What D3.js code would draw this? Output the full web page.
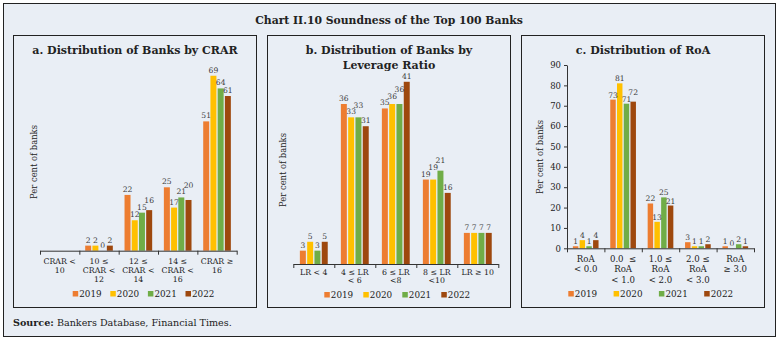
<!DOCTYPE html>
<html>
<head>
<meta charset="utf-8">
<script src="https://cdn.jsdelivr.net/npm/d3@7"></script>
<style>
body { margin: 0; background: #fff; }
svg text { font-family: "DejaVu Serif", serif; fill: #222; }
</style>
</head>
<body>
<svg id="chart" width="779" height="339"></svg>
<script>
// ---- data ----
var years = ["2019", "2020", "2021", "2022"];
var yearColors = ["#ed7d31", "#ffc000", "#70ad47", "#9e480e"];

// a. CRAR
var crarCats = ["CRAR <|10", "10 ≤|CRAR <|12", "12 ≤|CRAR <|14", "14 ≤|CRAR <|16", "CRAR ≥|16"];
var crarValues = [
	[null, 2, 22, 25, 51],
	[null, 2, 12, 17, 69],
	[null, 0, 15, 21, 64],
	[null, 2, 16, 20, 61]
];

// b. leverage ratio
var lrCats = ["LR < 4", "4 ≤ LR|< 6", "6 ≤ LR|<8", "8 ≤ LR|<10", "LR ≥ 10"];
var lrValues = [
	[3, 36, 35, 19, 7],
	[5, 33, 36, 19, 7],
	[3, 33, 36, 21, 7],
	[5, 31, 41, 16, 7]
];

// c. RoA
var roaCats = ["RoA|< 0.0", "0.0 \u00a0≤|RoA|< 1.0", "1.0 ≤|RoA|< 2.0", "2.0 ≤|RoA|< 3.0", "RoA|≥ 3.0"];
var roaValues = [
	[1, 73, 22, 3, 1],
	[4, 81, 13, 1, 0],
	[1, 71, 25, 1, 2],
	[4, 72, 21, 2, 1]
];
var roaTicks = [0, 10, 20, 30, 40, 50, 60, 70, 80, 90];

var svg = d3.select("#chart");

// outer frame
svg.append("rect")
	.attr("x", 3.5).attr("y", 3.5)
	.attr("width", 772).attr("height", 333)
	.attr("fill", "#e9eef5")
	.attr("stroke", "#222").attr("stroke-width", 1);

svg.append("text")
	.attr("x", 389).attr("y", 24)
	.attr("text-anchor", "middle")
	.style("font-size", "10.8px").style("font-weight", "bold")
	.text("Chart II.10 Soundness of the Top 100 Banks");

var src = svg.append("text").attr("x", 13).attr("y", 326).style("font-size", "9.6px");
src.append("tspan").style("font-weight", "bold").text("Source:");
src.append("tspan").text(" Bankers Database, Financial Times.");

function drawPanel(p) {
	// panel box and title
	svg.append("rect")
		.attr("x", p.box[0] + 0.5).attr("y", 35.5)
		.attr("width", 243).attr("height", 272)
		.attr("fill", "none").attr("stroke", "#222");

	p.title.forEach(function(t, i) {
		svg.append("text")
			.attr("x", p.box[0] + 122).attr("y", 54 + i * 14.5)
			.attr("text-anchor", "middle")
			.style("font-size", "11px").style("font-weight", "bold")
			.text(t);
	});

	var g = svg.append("g");
	var n = p.cats.length;
	var x0 = d3.scaleBand().domain(d3.range(n)).range(p.xRange);
	var x1 = d3.scaleBand().domain(years).range([0, x0.bandwidth()])
		.paddingInner(p.pi).paddingOuter(p.po);
	var y = d3.scaleLinear().domain([0, p.yMax]).range([p.base, p.yTop]);

	var data = [];
	years.forEach(function(yr, k) {
		p.values[k].forEach(function(v, i) {
			if (v !== null) data.push({i: i, k: k, yr: yr, v: v});
		});
	});

	g.selectAll("rect.bar").data(data).enter().append("rect")
		.attr("class", "bar")
		.attr("x", function(d) { return x0(d.i) + x1(d.yr); })
		.attr("y", function(d) { return y(d.v); })
		.attr("width", x1.bandwidth())
		.attr("height", function(d) { return p.base - y(d.v); })
		.attr("fill", function(d) { return yearColors[d.k]; });

	// value labels, lifted when they would collide with the left neighbour
	var prev = null;
	data.sort(function(a, b) { return a.i - b.i || a.k - b.k; });
	data.forEach(function(d) {
		var cx = x0(d.i) + x1(d.yr) + x1.bandwidth() / 2;
		var ty = y(d.v) - p.gap;
		var t = g.append("text")
			.attr("x", cx).attr("text-anchor", "middle")
			.style("font-size", p.labelSize + "px").style("fill", "#404040")
			.text(d.v);
		var w = t.node().getComputedTextLength();
		if (prev && prev.i == d.i && prev.right > cx - w / 2 && Math.abs(prev.y - ty) < 6) {
			ty = prev.y - p.labelSize + 1;
		}
		t.attr("y", ty);
		prev = {i: d.i, y: ty, right: cx + w / 2};
	});

	// x axis with ticks between the categories
	var xb = d3.scaleLinear().domain([0, n]).range(p.xRange);
	var ax = g.append("g")
		.attr("transform", "translate(0," + p.base + ")")
		.call(d3.axisBottom(xb).ticks(n).tickFormat("").tickSize(4).tickSizeOuter(0));
	ax.selectAll("path, line").attr("stroke", "#333");

	p.cats.forEach(function(c, i) {
		var t = g.append("text")
			.attr("x", x0(i) + x0.bandwidth() / 2)
			.attr("y", p.catY)
			.attr("text-anchor", "middle")
			.style("font-size", p.catSize + "px");
		c.split("|").forEach(function(line, j) {
			t.append("tspan")
				.attr("x", x0(i) + x0.bandwidth() / 2)
				.attr("dy", j == 0 ? 0 : p.catGap)
				.text(line);
		});
	});

	if (p.yTicks) {
		var ay = g.append("g")
			.attr("transform", "translate(" + p.xRange[0] + ",0)")
			.call(d3.axisLeft(y).tickValues(p.yTicks).tickSize(3).tickSizeOuter(0).tickPadding(3));
		ay.selectAll("path, line").attr("stroke", "#333");
		ay.selectAll("text")
			.style("font-family", "'DejaVu Serif', serif")
			.style("font-size", "8.5px").style("fill", "#222");
	}

	g.append("text")
		.attr("transform", "translate(" + p.yLabel[0] + "," + p.yLabel[1] + ") rotate(-90)")
		.attr("text-anchor", "middle")
		.attr("dominant-baseline", "central")
		.style("font-size", "8.4px")
		.text("Per cent of banks");

	// legend
	years.forEach(function(yr, k) {
		var lx = p.legend[0] + k * p.legend[2];
		g.append("rect")
			.attr("x", lx).attr("y", p.legend[1] - 3)
			.attr("width", 5.5).attr("height", 5.5)
			.attr("fill", yearColors[k]);
		g.append("text")
			.attr("x", lx + 6.5).attr("y", p.legend[1] + 3)
			.style("font-size", p.legendSize + "px")
			.text(yr);
	});
}

drawPanel({
	box: [13], title: ["a. Distribution of Banks by CRAR"],
	cats: crarCats, values: crarValues,
	xRange: [40, 236.7], base: 250.7, yTop: 73.2, yMax: 70,
	pi: 0.17, po: 0.81, gap: 3, labelSize: 7.6,
	catY: 263.5, catSize: 7.8, catGap: 9.3,
	yLabel: [34, 162], legend: [72.7, 294, 37.6], legendSize: 8.8
});

drawPanel({
	box: [267], title: ["b. Distribution of Banks by", "Leverage Ratio"],
	cats: lrCats, values: lrValues,
	xRange: [293.3, 498.3], base: 264, yTop: 64, yMax: 45,
	pi: 0.18, po: 0.9, gap: 3, labelSize: 7.6,
	catY: 274.5, catSize: 7.8, catGap: 8.5,
	yLabel: [283, 170], legend: [324.3, 295, 39], legendSize: 8.8
});

drawPanel({
	box: [521], title: ["c. Distribution of RoA"],
	cats: roaCats, values: roaValues,
	xRange: [567, 754], base: 248.3, yTop: 65, yMax: 90,
	pi: 0.19, po: 0.87, gap: 2, labelSize: 7.6,
	catY: 261.5, catSize: 8.6, catGap: 10.8,
	yTicks: roaTicks,
	yLabel: [540, 157], legend: [568.3, 294, 45.3], legendSize: 8.8
});
</script>
</body>
</html>
